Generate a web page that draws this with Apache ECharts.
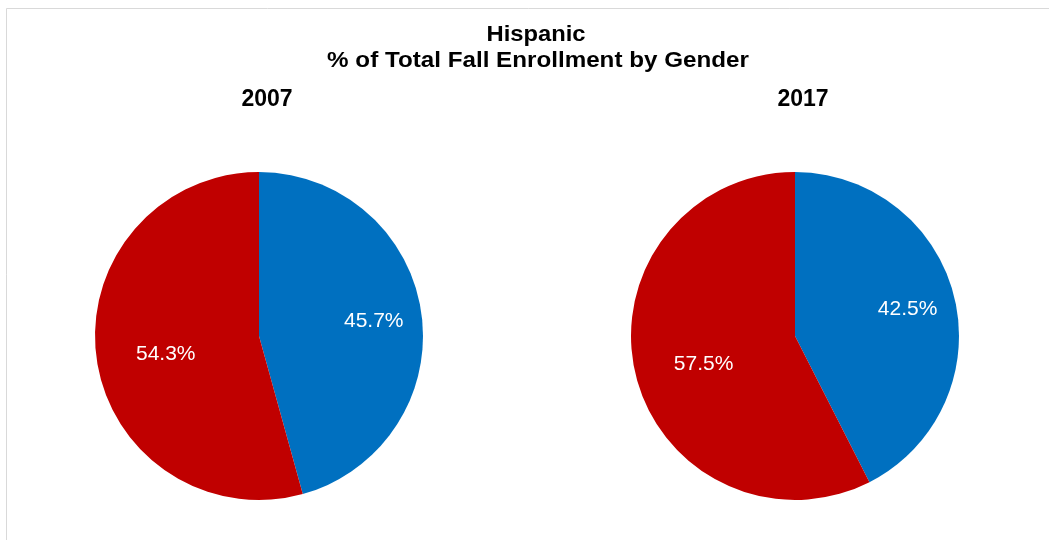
<!DOCTYPE html>
<html>
<head>
<meta charset="utf-8">
<script src="https://cdn.jsdelivr.net/npm/echarts@6/dist/echarts.min.js"></script>
<style>
html,body{margin:0;padding:0;background:#fff;}
#chart{width:1049px;height:540px;}
</style>
</head>
<body>
<div id="chart"></div>
<script>
const titleLines = ['Hispanic', '% of Total Fall Enrollment by Gender'];
const years = ['2007', '2017'];
const genders = ['Male', 'Female'];
const maleShare = [45.7, 42.5];
const femaleShare = [54.3, 57.5];
const colors = ['#0070C0', '#C00000'];

const FONT = '"Liberation Sans", Arial, sans-serif';
const R = 164;
const centers = [[259, 336], [795, 336]];
const yearX = [267, 803];

const fmt = p => p.value.toFixed(1) + '%';

const series = [];
years.forEach((yr, i) => {
  const data = genders.map((g, k) => ({
    name: g,
    value: k === 0 ? maleShare[i] : femaleShare[i],
    itemStyle: { color: colors[k] }
  }));
  series.push({
    type: 'pie', name: yr, center: centers[i], radius: [0, R],
    startAngle: 90, clockwise: true, silent: true,
    label: { show: false }, labelLine: { show: false },
    itemStyle: { borderWidth: 0 },
    data: data
  });
  // transparent label carriers so labels sit where the reference puts them
  [[0, 1.40, { dx: -2, dy: 1 }], [1, 1.16, { dx: 4, dy: 5 }]].forEach(([idx, f, lay]) => {
    series.push({
      type: 'pie', name: yr + '-lbl' + idx, center: centers[i], radius: [0, R * f],
      startAngle: 90, clockwise: true, silent: true, z: 5,
      itemStyle: { color: 'rgba(0,0,0,0)', borderWidth: 0 },
      labelLine: { show: false },
      labelLayout: lay,
      data: data.map((d, k) => ({
        name: d.name, value: d.value,
        label: {
          show: k === idx, position: 'inside', formatter: fmt,
          color: '#ffffff', fontSize: 21, fontFamily: FONT
        }
      }))
    });
  });
});

const textEl = (txt, x, y, size, sx) => ({
  type: 'text', silent: true, x: x, y: y, scaleX: sx, scaleY: 1,
  style: {
    text: txt, fill: '#000', align: 'center', verticalAlign: 'top',
    font: 'bold ' + size + 'px ' + FONT
  }
});

const chart = echarts.init(document.getElementById('chart'), null, { renderer: 'canvas' });
chart.setOption({
  animation: false,
  backgroundColor: '#ffffff',
  graphic: [
    {
      type: 'rect', silent: true,
      shape: { x: 6.5, y: 8.5, width: 1200, height: 700 },
      style: { fill: 'none', stroke: '#d9d9d9', lineWidth: 1 }
    },
    textEl(titleLines[0], 536, 24, 22, 1.08),
    textEl(titleLines[1], 538, 50, 22, 1.10),
    textEl(years[0], yearX[0], 88, 23, 1.0),
    textEl(years[1], yearX[1], 88, 23, 1.0)
  ],
  series: series
});
</script>
</body>
</html>
